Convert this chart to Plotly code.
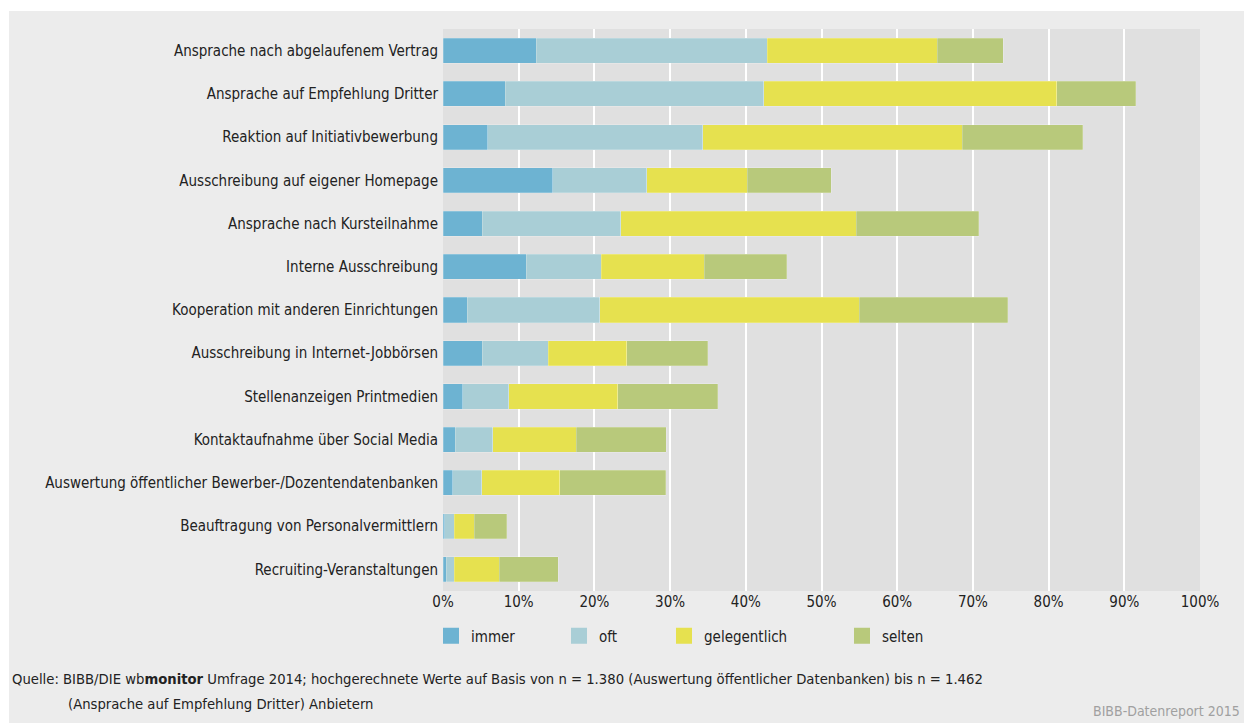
import plotly.graph_objects as go

categories = [
    "Ansprache nach abgelaufenem Vertrag",
    "Ansprache auf Empfehlung Dritter",
    "Reaktion auf Initiativbewerbung",
    "Ausschreibung auf eigener Homepage",
    "Ansprache nach Kursteilnahme",
    "Interne Ausschreibung",
    "Kooperation mit anderen Einrichtungen",
    "Ausschreibung in Internet-Jobbörsen",
    "Stellenanzeigen Printmedien",
    "Kontaktaufnahme über Social Media",
    "Auswertung öffentlicher Bewerber-/Dozentendatenbanken",
    "Beauftragung von Personalvermittlern",
    "Recruiting-Veranstaltungen",
]
immer = [12.3, 8.2, 5.9, 14.5, 5.2, 11.0, 3.2, 5.2, 2.6, 1.6, 1.3, 0.2, 0.4]
oft = [30.5, 34.2, 28.4, 12.4, 18.3, 9.9, 17.5, 8.7, 6.1, 5.0, 3.8, 1.3, 1.1]
gelegentlich = [22.5, 38.7, 34.3, 13.3, 31.1, 13.6, 34.3, 10.4, 14.4, 11.0, 10.3, 2.6, 5.9]
selten = [8.7, 10.4, 15.9, 11.1, 16.2, 10.9, 19.6, 10.7, 13.2, 11.9, 14.0, 4.3, 7.8]

series_names = ["immer", "oft", "gelegentlich", "selten"]
series_values = [immer, oft, gelegentlich, selten]
colors = ["#6db3d2", "#a9ced6", "#e6e14f", "#b8c97b"]
tick_vals = [0, 10, 20, 30, 40, 50, 60, 70, 80, 90, 100]
tick_text = [f"{v}%" for v in tick_vals]

FONT = "Liberation Sans Narrow, DejaVu Sans Condensed, Arial Narrow, sans-serif"

W, H = 1244, 723
L, R, T, B = 443, 44, 29, 132
pw, ph = W - L - R, H - T - B

fig = go.Figure()
for name, vals, col in zip(series_names, series_values, colors):
    fig.add_trace(go.Bar(
        y=categories, x=vals, name=name, orientation="h",
        marker=dict(color=col, line=dict(width=0.6, color="rgba(255,255,255,0.35)")),
        showlegend=False, hoverinfo="x+name",
    ))

# legend entries (larger square swatches), each in its own legend positioned like the reference
legend_x_px = [443, 571, 676, 854]
for i, (name, col) in enumerate(zip(series_names, colors)):
    lg = "legend" if i == 0 else f"legend{i+1}"
    fig.add_trace(go.Scatter(
        x=[None], y=[None], mode="markers", name=name,
        marker=dict(symbol="square", size=16, color=col),
        showlegend=True, legend=lg,
    ))

def px_x(p):
    return (p - L) / pw

def px_y(p):
    return (H - B - p) / ph

legend_common = dict(
    orientation="h", yanchor="middle", xanchor="left",
    bgcolor="rgba(0,0,0,0)", font=dict(family=FONT, size=15, color="#222"),
    itemwidth=30, tracegroupgap=0,
)
layout_legends = {}
for i, xp in enumerate(legend_x_px):
    key = "legend" if i == 0 else f"legend{i+1}"
    layout_legends[key] = dict(x=px_x(xp - 12), y=px_y(636), **legend_common)

fig.update_layout(
    width=W, height=H,
    margin=dict(l=L, r=R, t=T, b=B, pad=0),
    barmode="stack", bargap=0.42,
    paper_bgcolor="#ececec", plot_bgcolor="#e0e0e0",
    font=dict(family=FONT, size=15, color="#222"),
    xaxis=dict(
        range=[0, 100], tickvals=tick_vals, ticktext=tick_text,
        showgrid=True, gridcolor="#ffffff", gridwidth=1.5,
        zeroline=False, showline=False, ticks="",
        tickfont=dict(family=FONT, size=15, color="#222"),
        fixedrange=True,
    ),
    yaxis=dict(
        categoryorder="array", categoryarray=categories[::-1],
        showgrid=False, zeroline=False, ticks="", ticklabelstandoff=4,
        tickfont=dict(family=FONT, size=15, color="#222"),
        fixedrange=True,
    ),
    **layout_legends,
    shapes=[
        dict(type="rect", xref="paper", yref="paper", x0=px_x(0), x1=px_x(W + 5),
             y0=px_y(11), y1=px_y(-5), fillcolor="#ffffff", line=dict(width=0), layer="below"),
        dict(type="rect", xref="paper", yref="paper", x0=px_x(-5), x1=px_x(9),
             y0=px_y(H + 5), y1=px_y(-5), fillcolor="#ffffff", line=dict(width=0), layer="below"),
    ],
    annotations=[
        dict(xref="paper", yref="paper", x=px_x(10), y=px_y(678), xanchor="left", yanchor="middle",
             showarrow=False, align="left",
             text="Quelle: BIBB/DIE wb<b>monitor</b> Umfrage 2014; hochgerechnete Werte auf Basis von n = 1.380 (Auswertung öffentlicher Datenbanken) bis n = 1.462",
             font=dict(family=FONT, size=14.7, color="#222")),
        dict(xref="paper", yref="paper", x=px_x(66), y=px_y(703), xanchor="left", yanchor="middle",
             showarrow=False, align="left",
             text="(Ansprache auf Empfehlung Dritter) Anbietern",
             font=dict(family=FONT, size=14.7, color="#222")),
        dict(xref="paper", yref="paper", x=px_x(1242), y=px_y(711), xanchor="right", yanchor="middle",
             showarrow=False, align="right",
             text="BIBB-Datenreport 2015",
             font=dict(family=FONT, size=14, color="#a0a0a0")),
    ],
)

fig.write_html(
    "out.html",
    config={"displayModeBar": False},
    post_script="document.body.style.margin='0';document.body.style.padding='0';",
)
